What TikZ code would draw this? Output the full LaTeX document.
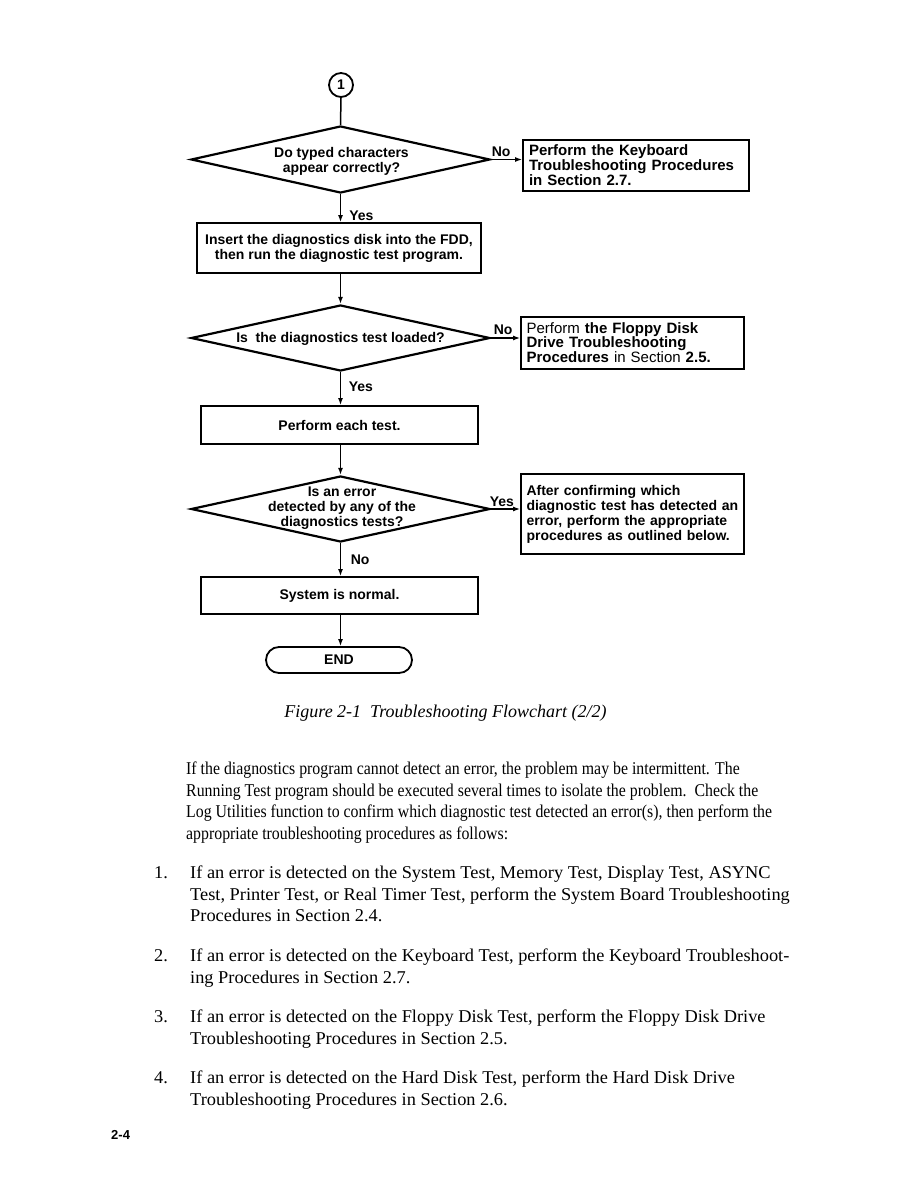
\documentclass[tikz,border=0pt]{standalone}
\usepackage{fontspec}
\setmainfont{Liberation Serif}
\newfontfamily\flowfont{Liberation Sans}
\newfontfamily\parafont[FakeStretch=0.88]{Liberation Serif}
\newfontfamily\listfont[FakeStretch=1.02]{Liberation Serif}
\usetikzlibrary{shapes.geometric,arrows.meta}
\tikzset{
  flowtext/.style={font=\flowfont\bfseries\fontsize{14}{15}\selectfont, align=center, inner sep=0pt},
  dia/.style={draw, line width=2.2pt, diamond, inner sep=0pt},
  procbox/.style={draw, line width=1.8pt, rectangle, inner xsep=5.5pt, inner ysep=2pt, font=\flowfont\bfseries\fontsize{14}{15}\selectfont},
  bigbox/.style={procbox, font=\flowfont\bfseries\fontsize{15}{15}\selectfont, align=left},
  conn/.style={line width=1.5pt, -{Latex[length=7pt,width=5pt]}},
  lbl/.style={font=\flowfont\bfseries\fontsize{14}{14}\selectfont, inner sep=0pt},
  paratext/.style={font=\parafont\fontsize{18}{21.5}\selectfont, align=left, inner sep=0pt, anchor=north west},
  itemtext/.style={font=\listfont\fontsize{18}{21.7}\selectfont, align=left, inner sep=0pt, anchor=north west},
  itemnum/.style={font=\listfont\fontsize{18}{21.7}\selectfont, inner sep=0pt, anchor=base west},
}
\begin{document}
\begin{tikzpicture}[x=1pt,y=-1pt]
\useasboundingbox (0,0) rectangle (918,1188);
% start connector
\node[draw, circle, line width=1.8pt, minimum size=24pt, inner sep=0pt, font=\flowfont\bfseries\fontsize{14}{14}\selectfont] (c1) at (341,85) {1};
% decision 1
\node[dia, minimum width=299pt, minimum height=67pt] (d1) at (340.5,159.5) {};
\node[flowtext] (d1t) at (341.5,161) {Do typed characters\\appear correctly?};
\node[bigbox, minimum width=226pt, minimum height=51pt, inner xsep=6pt, text width=214pt] (b1) at (636,165.5) {Perform the Keyboard\\Troubleshooting Procedures\\in Section 2.7.};
% box 2
\node[procbox, minimum width=284pt, minimum height=50pt, align=center] (b2) at (339,248) {Insert the diagnostics disk into the FDD,\\then run the diagnostic test program.};
% decision 2
\node[dia, minimum width=299pt, minimum height=66pt] (d2) at (340.5,338) {};
\node[flowtext] (d2t) at (340.5,338.5) {Is\ \ the diagnostics test loaded?};
\node[bigbox, minimum width=223pt, minimum height=52pt, text width=212pt, font=\flowfont\bfseries\fontsize{15}{14}\selectfont] (b3) at (632.5,343) {{\mdseries Perform} the Floppy Disk\\Drive Troubleshooting\\Procedures {\mdseries in Section} 2.5.};
% box 4
\node[procbox, minimum width=277pt, minimum height=38pt] (b4) at (339.5,425) {Perform each test.};
% decision 3
\node[dia, minimum width=299pt, minimum height=66pt] (d3) at (340.5,509) {};
\node[flowtext] (d3t) at (342,508) {Is an error\\detected by any of the\\diagnostics tests?};
\node[procbox, minimum width=223pt, minimum height=80pt, text width=212pt, align=left] (b5) at (632.5,514) {After confirming which\\diagnostic test has detected an\\error, perform the appropriate\\procedures as outlined below.};
% box 6
\node[procbox, minimum width=277pt, minimum height=37pt] (b6) at (339.5,595.5) {System is normal.};
% terminal
\node[draw, line width=1.8pt, rectangle, rounded corners=13pt, minimum width=146pt, minimum height=26pt, font=\flowfont\bfseries\fontsize{14}{14}\selectfont] (end) at (339,660) {END};
% connectors
\draw[line width=1.5pt] (c1.south) -- (d1.north);
\draw[conn] (d1.east) -- node[lbl, at start, anchor=south west, yshift=2pt] {No} (d1.east -| b1.west);
\draw[conn] (d1.south) -- node[lbl, at end, anchor=south west, xshift=8pt, yshift=1pt] {Yes} (d1.south |- b2.north);
\draw[conn] (b2.south -| d2.north) -- (d2.north);
\draw[conn] (d2.east) -- node[lbl, at start, anchor=south west, xshift=2pt, yshift=2.5pt] {No} (d2.east -| b3.west);
\draw[conn] (d2.south) -- node[lbl, at end, anchor=south west, xshift=7.5pt, yshift=13pt] {Yes} (d2.south |- b4.north);
\draw[conn] (b4.south -| d3.north) -- (d3.north);
\draw[conn] (d3.east) -- node[lbl, at start, anchor=south west, xshift=-2pt, yshift=2pt] {Yes} (d3.east -| b5.west);
\draw[conn] (d3.south) -- node[lbl, at end, anchor=south west, xshift=9.5pt, yshift=11pt] {No} (d3.south |- b6.north);
\draw[conn] (b6.south -| d3.south) -- (end.north -| d3.south);
% caption
\node[font=\itshape\fontsize{18}{20}\selectfont, inner sep=0pt, anchor=base] (cap) at (445.5,717) {Figure 2-1\ \ Troubleshooting Flowchart (2/2)};
% paragraph
\node[paratext] (para) at (186,761.7) {If the diagnostics program cannot detect an error, the problem may be intermittent. The\\
Running Test program should be executed several times to isolate the problem.\ \ Check the\\
Log Utilities function to confirm which diagnostic test detected an error(s), then perform the\\
appropriate troubleshooting procedures as follows:};
% list
\node[itemnum] (n1) at (154,878) {1.};
\node[itemtext] (i1) at (190,865.7) {If an error is detected on the System Test, Memory Test, Display Test, ASYNC\\
Test, Printer Test, or Real Timer Test, perform the System Board Troubleshooting\\
Procedures in Section 2.4.};
\node[itemnum] (n2) at (154,961) {2.};
\node[itemtext] (i2) at (190,948.7) {If an error is detected on the Keyboard Test, perform the Keyboard Troubleshoot-\\
ing Procedures in Section 2.7.};
\node[itemnum] (n3) at (154,1022) {3.};
\node[itemtext] (i3) at (190,1009.7) {If an error is detected on the Floppy Disk Test, perform the Floppy Disk Drive\\
Troubleshooting Procedures in Section 2.5.};
\node[itemnum] (n4) at (154,1083) {4.};
\node[itemtext] (i4) at (190,1070.7) {If an error is detected on the Hard Disk Test, perform the Hard Disk Drive\\
Troubleshooting Procedures in Section 2.6.};
\node[font=\flowfont\bfseries\fontsize{13}{13}\selectfont, inner sep=0pt, anchor=base west] (pg) at (111,1139) {2-4};
\end{tikzpicture}
\end{document}
